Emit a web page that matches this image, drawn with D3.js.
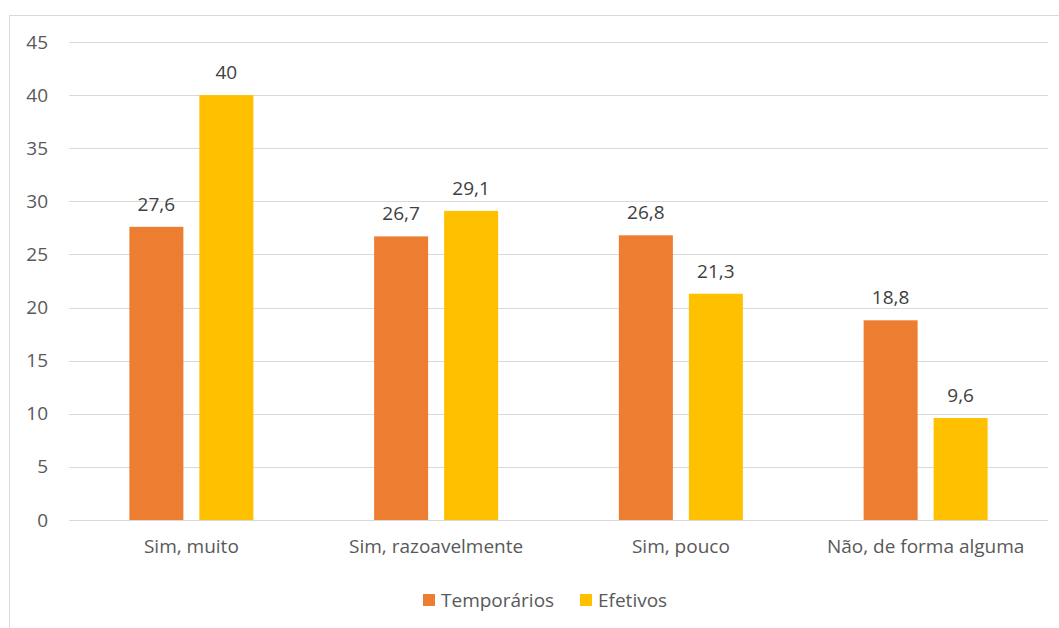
<!DOCTYPE html>
<html>
<head>
<meta charset="utf-8">
<script src="https://cdn.jsdelivr.net/npm/d3@7"></script>
<style>
  body { margin: 0; background: #fff; }
  svg { display: block; font-family: "Open Sans", "Noto Sans", sans-serif; }
</style>
</head>
<body>
<svg id="chart" width="1059" height="628"></svg>
<script>
// Chart data
const categories = ["Sim, muito", "Sim, razoavelmente", "Sim, pouco", "Não, de forma alguma"];
const seriesNames = ["Temporários", "Efetivos"];
const temporarios = [27.6, 26.7, 26.8, 18.8];
const efetivos = [40, 29.1, 21.3, 9.6];
const yTicks = [0, 5, 10, 15, 20, 25, 30, 35, 40, 45];
const colors = ["#ED7D31", "#FFC000"];

const series = [temporarios, efetivos];
const fmt = v => String(v).replace(".", ",");
const FS = "19px";

const svg = d3.select("#chart");
const W = 1059, H = 628;
const margin = { left: 69, right: 11, top: 42, bottom: 108 };
const plotW = W - margin.left - margin.right;
const plotH = H - margin.top - margin.bottom;

// Outer chart-area border
svg.append("rect")
  .attr("x", 9.5).attr("y", 15.5)
  .attr("width", W + 10).attr("height", H + 10)
  .attr("fill", "none").attr("stroke", "#D9D9D9").attr("stroke-width", 1);

const g = svg.append("g").attr("transform", `translate(${margin.left},${margin.top})`);

const y = d3.scaleLinear().domain([0, 45]).range([plotH, 0]);
const x0 = d3.scaleBand().domain(categories).range([0, plotW]).paddingInner(0).paddingOuter(0);
// two bars of 54px separated by 16px inside each category
const x1 = d3.scaleBand().domain(seriesNames).range([0, 124]).paddingInner(16 / 70).paddingOuter(0);

// Gridlines
g.append("g").selectAll("line").data(yTicks).join("line")
  .attr("x1", 0).attr("x2", plotW)
  .attr("y1", d => Math.round(y(d)) + 0.5).attr("y2", d => Math.round(y(d)) + 0.5)
  .attr("stroke", "#D9D9D9").attr("stroke-width", 1);

// Y axis labels
const yAxis = d3.axisLeft(y).tickValues(yTicks).tickSize(0).tickPadding(0);
const ya = g.append("g").attr("transform", "translate(-21,0)").call(yAxis);
ya.select(".domain").remove();
ya.selectAll("text").attr("fill", "#595959").style("font-size", FS)
  .attr("font-family", "'Open Sans', 'Noto Sans', sans-serif");

// Bars
const groups = g.append("g").selectAll("g").data(categories).join("g")
  .attr("transform", d => `translate(${x0(d) + x0.bandwidth() / 2 - 62},0)`);

groups.each(function(cat, i) {
  const grp = d3.select(this);
  seriesNames.forEach((s, j) => {
    const v = series[j][i];
    grp.append("rect")
      .attr("x", x1(s)).attr("width", x1.bandwidth())
      .attr("y", y(v)).attr("height", plotH - y(v))
      .attr("fill", colors[j]);
    grp.append("text")
      .attr("x", x1(s) + x1.bandwidth() / 2)
      .attr("y", y(v) - 16)
      .attr("text-anchor", "middle")
      .attr("fill", "#404040")
      .style("font-size", FS)
      .text(fmt(v));
  });
});

// X axis labels
const xAxis = d3.axisBottom(x0).tickSize(0).tickPadding(20);
const xa = g.append("g").attr("transform", `translate(0,${plotH})`).call(xAxis);
xa.select(".domain").remove();
xa.selectAll("text").attr("fill", "#595959").style("font-size", FS)
  .attr("font-family", "'Open Sans', 'Noto Sans', sans-serif");

// Legend
const legend = svg.append("g").attr("transform", "translate(423,594)");
const legendX = [0, 157];
seriesNames.forEach((s, j) => {
  const lg = legend.append("g").attr("transform", `translate(${legendX[j]},0)`);
  lg.append("rect").attr("width", 12).attr("height", 12).attr("fill", colors[j]);
  lg.append("text").attr("x", 18).attr("y", 13)
    .attr("fill", "#595959").style("font-size", FS).text(s);
});
</script>
</body>
</html>
